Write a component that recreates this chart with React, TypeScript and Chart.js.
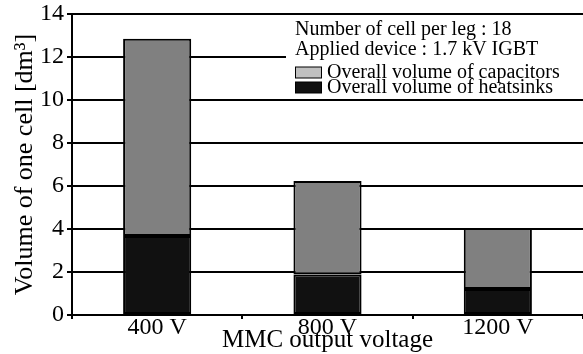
import React, { useEffect, useRef } from 'react';
import { Chart, registerables } from 'chart.js';

Chart.register(...registerables);

const categories = ['400 V', '800 V', '1200 V'];
const heatsinkVolume = [3.67, 1.88, 1.21];
const capacitorVolume = [9.18, 4.35, 2.84];
const seriesLabels = ['Overall volume of heatsinks', 'Overall volume of capacitors'];
const noteLines = ['Number of cell per leg : 18', 'Applied device : 1.7 kV IGBT'];
const yTicksMin = 0;
const yTicksMax = 14;
const yTickStep = 2;
const xTitle = 'MMC output voltage';
const yTitle = 'Volume of one cell [dm\u00B3]';

const FONT = "'Liberation Serif', 'Times New Roman', serif";

const legendBoxPlugin = {
  id: 'legendBox',
  afterDatasetsDraw(chart: any) {
    const ctx = chart.ctx;
    const right = chart.width;
    ctx.save();
    ctx.fillStyle = '#ffffff';
    ctx.fillRect(286, 16, right - 286, 83);
    ctx.fillStyle = '#000000';
    ctx.font = `20px ${FONT}`;
    ctx.textBaseline = 'middle';
    ctx.textAlign = 'left';
    ctx.fillText(noteLines[0], 295, 30);
    ctx.fillText(noteLines[1], 295, 50);
    const items = [
      { label: seriesLabels[1], fill: '#c0c0c0', y: 72.5 },
      { label: seriesLabels[0], fill: '#111111', y: 87.5 },
    ];
    items.forEach((it) => {
      ctx.fillStyle = it.fill;
      ctx.fillRect(295, it.y - 5.5, 26, 11);
      ctx.strokeStyle = '#000000';
      ctx.lineWidth = 1;
      ctx.strokeRect(295.5, it.y - 5.5, 26, 11);
      ctx.fillStyle = '#000000';
      ctx.fillText(it.label, 327, it.y);
    });
    ctx.restore();
  },
};

export default function App() {
  const ref = useRef<HTMLCanvasElement>(null);
  useEffect(() => {
    if (!ref.current) return;
    const chart = new Chart(ref.current, {
      type: 'bar',
      data: {
        labels: categories,
        datasets: [
          {
            label: seriesLabels[0],
            data: heatsinkVolume,
            backgroundColor: '#111111',
            borderColor: '#000000',
            borderWidth: 2,
            borderSkipped: false,
            categoryPercentage: 1,
            barPercentage: 0.4,
          },
          {
            label: seriesLabels[1],
            data: capacitorVolume,
            backgroundColor: '#808080',
            borderColor: '#000000',
            borderWidth: 2,
            borderSkipped: false,
            categoryPercentage: 1,
            barPercentage: 0.4,
          },
        ],
      },
      options: {
        responsive: false,
        animation: false,
        layout: { padding: { top: 14, right: 0, bottom: 0, left: 0 } },
        plugins: {
          legend: { display: false },
          tooltip: { enabled: false },
        },
        scales: {
          x: {
            stacked: true,
            offset: true,
            grid: {
              display: true,
              drawOnChartArea: false,
              drawTicks: true,
              tickLength: 4,
              color: '#000000',
              lineWidth: 2,
              offset: true,
            },
            border: { display: true, color: '#000000', width: 2 },
            ticks: {
              color: '#000000',
              font: { family: FONT, size: 24 },
              padding: -6,
              maxRotation: 0,
            },
            title: {
              display: true,
              text: xTitle,
              color: '#000000',
              font: { family: FONT, size: 25 },
              padding: { top: 0, bottom: -1 },
            },
            afterFit: (scale: any) => {
              scale.height = 39;
              scale.paddingLeft = 0;
              scale.paddingRight = 0;
            },
          },
          y: {
            stacked: true,
            min: yTicksMin,
            max: yTicksMax,
            ticks: {
              stepSize: yTickStep,
              color: '#000000',
              font: { family: FONT, size: 24 },
              padding: 3,
            },
            grid: {
              color: '#000000',
              lineWidth: 2,
              tickLength: 5,
            },
            border: { display: true, color: '#000000', width: 2 },
            title: {
              display: true,
              text: yTitle,
              color: '#000000',
              font: { family: FONT, size: 26 },
              padding: { top: 10, bottom: 0 },
            },
            afterFit: (scale: any) => {
              scale.width = 72;
              scale.paddingTop = 0;
              scale.paddingBottom = 0;
            },
          },
        },
      },
      plugins: [legendBoxPlugin],
    });
    return () => chart.destroy();
  }, []);
  return (
    <div style={{ position: 'absolute', left: 0, top: 0, width: 583, height: 354, background: '#fff' }}>
      <canvas ref={ref} width={583} height={354} style={{ display: 'block' }} />
    </div>
  );
}
